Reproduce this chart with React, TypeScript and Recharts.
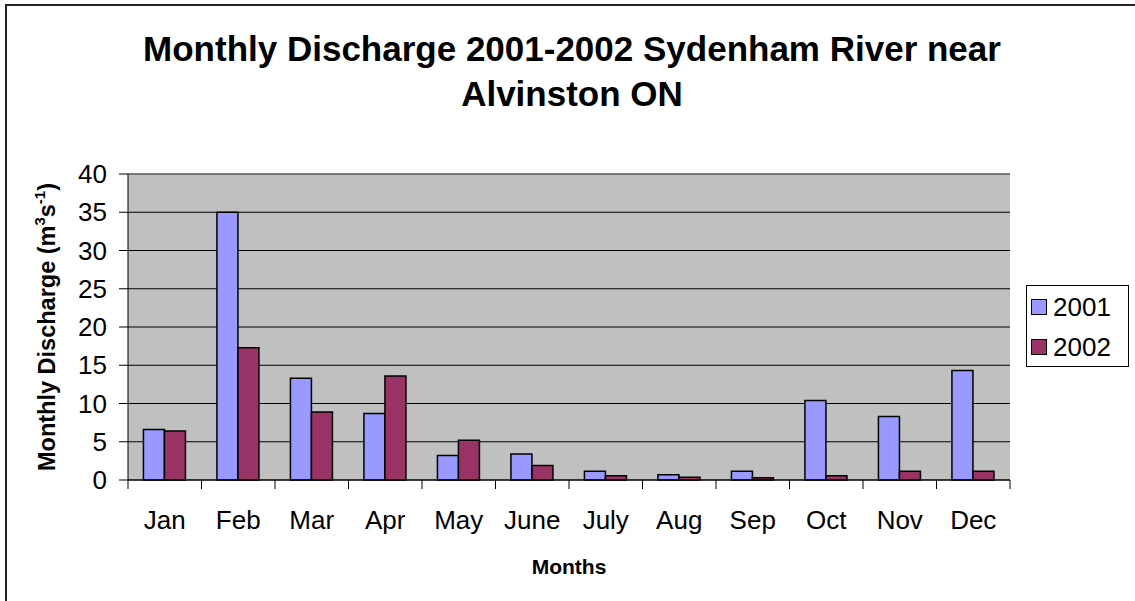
import { BarChart, Bar, XAxis, YAxis, CartesianGrid, Legend, ReferenceLine } from "recharts";

const months = ["Jan", "Feb", "Mar", "Apr", "May", "June", "July", "Aug", "Sep", "Oct", "Nov", "Dec"];
const flow2001 = [6.6, 35.0, 13.3, 8.7, 3.2, 3.4, 1.15, 0.7, 1.15, 10.4, 8.3, 14.3];
const flow2002 = [6.4, 17.3, 8.9, 13.6, 5.2, 1.9, 0.55, 0.35, 0.3, 0.55, 1.15, 1.15];
const yTicks = [0, 5, 10, 15, 20, 25, 30, 35, 40];

const data = months.map((m, i) => ({ month: m, y2001: flow2001[i], y2002: flow2002[i] }));

const FONT = "'Liberation Sans', Arial, sans-serif";
const BLUE = "#9999FF";
const PLUM = "#993366";

// category labels sit in the middle, tick marks go on the band edges
function MonthTick(props: any) {
  const { x, y, payload, index } = props;
  const half = payload && payload.offset ? payload.offset : 36.75;
  return (
    <g>
      <line x1={x - half} x2={x - half} y1={y} y2={y + 9} stroke="#000" />
      {index === months.length - 1 && <line x1={x + half} x2={x + half} y1={y} y2={y + 9} stroke="#000" />}
      <text x={x} y={y + 49} textAnchor="middle" fontSize={26} fontFamily={FONT} fill="#000">
        {payload.value}
      </text>
    </g>
  );
}

function YTitle(props: any) {
  const vb = props.viewBox || { x: 0, y: 0, height: 0 };
  const cx = 55;
  const cy = vb.y + vb.height / 2;
  return (
    <text
      x={cx}
      y={cy}
      transform={`rotate(-90 ${cx} ${cy})`}
      textAnchor="middle"
      fontSize={23.5}
      fontWeight="bold"
      fontFamily={FONT}
      fill="#000"
    >
      Monthly Discharge (m<tspan dy={-10} fontSize={15}>3</tspan>
      <tspan dy={10}>s</tspan>
      <tspan dy={-10} fontSize={15}>-1</tspan>
      <tspan dy={10}>)</tspan>
    </text>
  );
}

function XTitle(props: any) {
  const vb = props.viewBox || { x: 0, y: 0, width: 0 };
  return (
    <text
      x={vb.x + vb.width / 2}
      y={vb.y + 94}
      textAnchor="middle"
      fontSize={21}
      fontWeight="bold"
      fontFamily={FONT}
      fill="#000"
    >
      Months
    </text>
  );
}

function LegendBox() {
  const items = [
    { label: "2001", color: BLUE },
    { label: "2002", color: PLUM },
  ];
  return (
    <div style={{ fontFamily: FONT, fontSize: 26, color: "#000" }}>
      {items.map((it, i) => (
        <div key={it.label} style={{ display: "flex", alignItems: "center", height: 40, marginTop: i === 0 ? 1 : 0 }}>
          <span
            style={{
              display: "inline-block",
              width: 14,
              height: 14,
              background: it.color,
              border: "1px solid #000",
              marginLeft: 4,
              marginRight: 6,
            }}
          />
          <span>{it.label}</span>
        </div>
      ))}
    </div>
  );
}

export default function App() {
  return (
    <div style={{ position: "absolute", left: 0, top: 0, width: 1135, height: 601, overflow: "hidden", background: "#fff" }}>
      <div
        style={{
          position: "absolute",
          left: 5,
          top: 4,
          width: 1300,
          height: 800,
          border: "2px solid #222",
        }}
      />
      <div
        style={{
          position: "absolute",
          left: 0,
          top: 26,
          width: 1144,
          textAlign: "center",
          fontFamily: FONT,
          fontWeight: "bold",
          fontSize: 35,
          lineHeight: "45px",
          color: "#000",
        }}
      >
        Monthly Discharge 2001-2002 Sydenham River near
        <br />
        Alvinston ON
      </div>
      <div style={{ position: "absolute", left: 0, top: 0 }}>
        <BarChart
          width={1135}
          height={601}
          data={data}
          margin={{ top: 174, right: 125, bottom: 91, left: 68 }}
          barCategoryGap="21%"
          barGap={0}
        >
          <CartesianGrid vertical={false} stroke="#000" fill="#C0C0C0" fillOpacity={1} />
          <XAxis
            dataKey="month"
            height={30}
            tickLine={false}
            tickSize={0}
            tickMargin={0}
            axisLine={{ stroke: "#000" }}
            tick={<MonthTick />}
            interval={0}
            label={<XTitle />}
          />
          <YAxis
            width={60}
            domain={[0, 40]}
            ticks={yTicks}
            interval={0}
            tickSize={9}
            tickMargin={12}
            tickLine={{ stroke: "#000" }}
            axisLine={{ stroke: "#000" }}
            tick={{ fontSize: 26, fill: "#000", fontFamily: FONT }}
            label={<YTitle />}
          />
          <YAxis yAxisId="frame" orientation="right" width={0} domain={[0, 40]} tick={false} tickLine={false} axisLine={{ stroke: "#808080" }} />
          <ReferenceLine y={40} stroke="#808080" />
          <Legend
            layout="vertical"
            align="center"
            verticalAlign="middle"
            content={<LegendBox />}
            wrapperStyle={{
              left: 1026,
              top: 285,
              width: 101,
              height: 80,
              border: "1px solid #000",
              background: "#fff",
            }}
          />
          <Bar dataKey="y2001" name="2001" fill={BLUE} stroke="#000" strokeWidth={1.5} isAnimationActive={false} />
          <Bar dataKey="y2002" name="2002" fill={PLUM} stroke="#000" strokeWidth={1.5} isAnimationActive={false} />
        </BarChart>
      </div>
    </div>
  );
}
